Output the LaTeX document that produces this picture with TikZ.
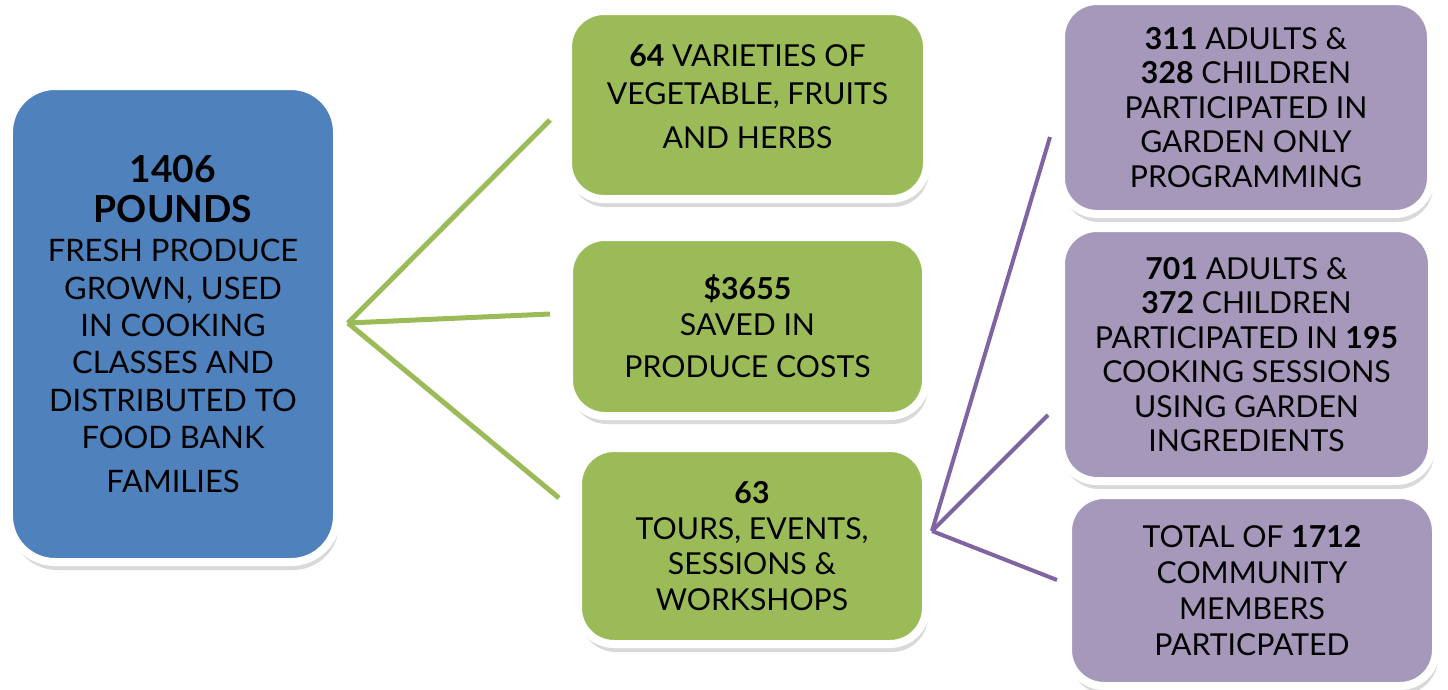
\documentclass[tikz,border=0pt]{standalone}
\usepackage{fontspec}
\setmainfont{Lato}
\usepackage{xcolor}
\usepackage{tikz}
\usetikzlibrary{shadows, positioning}
\definecolor{statblue}{RGB}{79,129,189}
\definecolor{statgreen}{RGB}{155,187,89}
\definecolor{statpurple}{RGB}{165,152,186}
\definecolor{linkpurple}{RGB}{128,100,162}
\newcommand{\bignum}[1]{{\fontsize{10.6}{12}\selectfont\bfseries #1}}

\begin{document}
\begin{tikzpicture}[
    card/.style={rectangle, draw=white, line width=0.08cm, align=center, inner sep=0pt, rounded corners=0.36cm, font=\fontsize{8.6}{10.2}\selectfont, drop shadow={opacity=0.3, shadow xshift=0.02cm, shadow yshift=-0.08cm}},
    bluecard/.style={card, fill=statblue, rounded corners=0.46cm, font=\fontsize{8.8}{10.6}\selectfont},
    greencard/.style={card, fill=statgreen},
    purplecard/.style={card, fill=statpurple, font=\fontsize{8.6}{9.8}\selectfont},
    greenlink/.style={statgreen, line width=0.05cm},
    purplelink/.style={linkpurple, line width=0.04cm}
]
    \useasboundingbox (0,0) rectangle (14.48,6.89);

    % Total harvest
    \node[bluecard, minimum width=3.28cm, minimum height=4.76cm] (harvest) at (1.73, 3.65) {\bignum{1406}\\[0.03cm] \bignum{POUNDS}\\[0.02cm] FRESH PRODUCE\\ GROWN, USED\\ IN COOKING\\ CLASSES AND\\ DISTRIBUTED TO\\ FOOD BANK\\[0.07cm] FAMILIES};

    % Garden results
    \node[greencard, minimum width=3.59cm, minimum height=1.88cm, text depth=0.16cm, font=\fontsize{8.6}{10.8}\selectfont] (varieties) at (7.475, 5.84) {\textbf{64} VARIETIES OF\\ VEGETABLE, FRUITS\\[0.06cm] AND HERBS};
    \node[greencard, minimum width=3.57cm, minimum height=1.79cm] (saved) at (7.475, 3.625) {\textbf{\$3655}\\ SAVED IN\\[0.06cm] PRODUCE COSTS};
    \node[greencard, minimum width=3.48cm, minimum height=1.96cm] (events) at (7.52, 1.43) {\textbf{63}\\ TOURS, EVENTS,\\ SESSIONS \&\\ WORKSHOPS};

    % Participants
    \node[purplecard, minimum width=3.70cm, minimum height=2.13cm] (garden) at (12.46, 5.815) {\textbf{311} ADULTS \&\\ \textbf{328} CHILDREN\\ PARTICIPATED IN\\ GARDEN ONLY\\ PROGRAMMING};
    \node[purplecard, minimum width=3.71cm, minimum height=2.53cm] (cooking) at (12.465, 3.345) {\textbf{701} ADULTS \&\\ \textbf{372} CHILDREN\\ PARTICIPATED IN \textbf{195}\\ COOKING SESSIONS\\ USING GARDEN\\ INGREDIENTS};
    \node[purplecard, minimum width=3.68cm, minimum height=1.91cm, font=\fontsize{8.6}{10.3}\selectfont] (total) at (12.52, 0.985) {TOTAL OF \textbf{1712}\\ COMMUNITY\\ MEMBERS\\ PARTICPATED};

    % Connector ends
    \coordinate (hubL) at (3.48, 3.66);
    \coordinate (toVarieties) at (5.50, 5.69);
    \coordinate (toSaved) at (5.50, 3.75);
    \coordinate (toEvents) at (5.59, 1.91);
    \coordinate (hubR) at (9.32, 1.58);
    \coordinate (toGarden) at (10.50, 5.52);
    \coordinate (toCooking) at (10.48, 2.74);
    \coordinate (toTotal) at (10.57, 1.09);

    % Green fan
    \draw[greenlink] (hubL) -- (toVarieties);
    \draw[greenlink] (hubL) -- (toSaved);
    \draw[greenlink] (hubL) -- (toEvents);

    % Purple fan
    \draw[purplelink] (hubR) -- (toGarden);
    \draw[purplelink] (hubR) -- (toCooking);
    \draw[purplelink] (hubR) -- (toTotal);
\end{tikzpicture}
\end{document}
